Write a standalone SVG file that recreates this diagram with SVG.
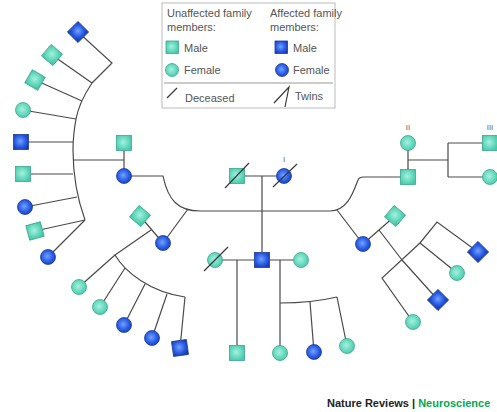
<svg xmlns="http://www.w3.org/2000/svg" width="497" height="412" viewBox="0 0 497 412">
<defs>
<radialGradient id="gT" cx="0.45" cy="0.45" r="0.6">
<stop offset="0" stop-color="#a3f2e0"/><stop offset="1" stop-color="#45c8a8"/>
</radialGradient>
<radialGradient id="gB" cx="0.45" cy="0.45" r="0.6">
<stop offset="0" stop-color="#74a2ff"/><stop offset="0.6" stop-color="#2c5fe6"/><stop offset="1" stop-color="#1a3db5"/>
</radialGradient>
<style>
.t{fill:url(#gT);stroke:#3aa88e;stroke-width:0.8}
.b{fill:url(#gB);stroke:#1c3c9c;stroke-width:0.8}
.ln{fill:none;stroke:#4a4a4a;stroke-width:1.2}
.sl{fill:none;stroke:#3a3a3a;stroke-width:1.2}
.lg{font-family:"Liberation Sans",Arial,sans-serif;font-size:11px;fill:#555}
.num{font-family:"Liberation Sans",Arial,sans-serif;font-size:8px;fill:#666;text-anchor:middle}
</style>
</defs>
<rect width="497" height="412" fill="#fff"/>

<g id="legend">
<rect x="162" y="3" width="173" height="105" fill="#fff" stroke="#bbb" stroke-width="1"/>
<text class="lg" x="167" y="17">Unaffected family</text>
<text class="lg" x="167" y="31">members:</text>
<text class="lg" x="270" y="17">Affected family</text>
<text class="lg" x="270" y="31">members:</text>
<rect class="t" x="166" y="41" width="12.5" height="12.5"/>
<text class="lg" x="184" y="52">Male</text>
<rect class="b" x="275" y="41" width="12.5" height="12.5"/>
<text class="lg" x="293" y="52">Male</text>
<circle class="t" cx="172" cy="70" r="6.5"/>
<text class="lg" x="184" y="74">Female</text>
<circle class="b" cx="282" cy="70" r="6.5"/>
<text class="lg" x="293" y="74">Female</text>
<line x1="164" y1="83" x2="333" y2="83" stroke="#999" stroke-width="1"/>
<line class="sl" x1="167" y1="98" x2="177" y2="88"/>
<text class="lg" x="185" y="102">Deceased</text>
<polyline class="sl" points="274,103 289,87 285,107"/>
<text class="lg" x="295" y="100">Twins</text>
</g>

<g id="connectors">
<path class="ln" d="M78,32 L112,63 L92,83 C84,95 78,108 76,119 C74,130 73,140 73,150 C73,175 76,195 85,220"/>
<path class="ln" d="M52,55 L92,83 M35,80 L82,101 M23,110 L76,119 M21,142 L73,142 M23,174 L73,174 M25,207 L77,197 M35,231 L85,220 M48,257 L85,220"/>
<path class="ln" d="M73,160 L124,160 M124,143 L124,176"/>
<path class="ln" d="M237,176 L284,176 M262,176 L262,260"/>
<path class="ln" d="M126,176 L163,176 C168,200 178,211 200,211 L330,211 C348,211 354,190 358,180 Q359,177 364,177 L408,177"/>
<path class="ln" d="M163,243 L188,209 M363,244 L337,210"/>
<path class="ln" d="M140,216 L163,243 M151,230 L115,255"/>
<path class="ln" d="M79,287 L115,255 C125,272 150,292 185,297 M100,307 L125,268 M124,325 L145,284 M152,338 L167,294 M180,348 L185,297"/>
<path class="ln" d="M215,260 L301,260 M237,260 L237,353 M280,260 L280,353"/>
<path class="ln" d="M280,303 C300,303 320,301 337,297 M310,302 L314,352 M337,297 L347,346"/>
<path class="ln" d="M408,143 L408,177 M408,160 L448,160 M448,143 L448,177 M448,143 L490,143 M448,177 L490,177"/>
<path class="ln" d="M363,244 L395,216 M379,230 L402,260"/>
<path class="ln" d="M413,322 L382,278 L420,243 L437,222 L478,252 M420,243 L457,273 M402,260 L438,300"/>
</g>

<g id="gen1-male"><rect class="t" x="229.5" y="168.5" width="15" height="15"/><line class="sl" x1="225" y1="188" x2="249" y2="163"/></g>
<g id="gen1-female"><circle class="b" cx="284" cy="176" r="7.5"/><line class="sl" x1="273" y1="187" x2="297" y2="164"/><text class="num" x="284" y="162">I</text></g>

<g id="fan-1"><rect class="b" x="70.5" y="24.5" width="15" height="15" transform="rotate(45 78 32)"/></g>
<g id="fan-2"><rect class="t" x="44.5" y="47.5" width="15" height="15" transform="rotate(40 52 55)"/></g>
<g id="fan-3"><rect class="t" x="27.5" y="72.5" width="15" height="15" transform="rotate(30 35 80)"/></g>
<g id="fan-4"><circle class="t" cx="23" cy="110" r="7.5"/></g>
<g id="fan-5"><rect class="b" x="13.5" y="134.5" width="15" height="15"/></g>
<g id="fan-6"><rect class="t" x="15.5" y="166.5" width="15" height="15"/></g>
<g id="fan-7"><circle class="b" cx="25" cy="207" r="7.5"/></g>
<g id="fan-8"><rect class="t" x="27.5" y="223.5" width="15" height="15" transform="rotate(-15 35 231)"/></g>
<g id="fan-9"><circle class="b" cx="48" cy="257" r="7.5"/></g>

<g id="left-spouse"><rect class="t" x="116.5" y="135.5" width="15" height="15"/></g>
<g id="left-daughter"><circle class="b" cx="124" cy="176" r="7.5"/></g>

<g id="ll-spouse"><rect class="t" x="132.5" y="208.5" width="15" height="15" transform="rotate(40 140 216)"/></g>
<g id="ll-daughter"><circle class="b" cx="163" cy="243" r="7.5"/></g>
<g id="ll-c1"><circle class="t" cx="79" cy="287" r="7.5"/></g>
<g id="ll-c2"><circle class="t" cx="100" cy="307" r="7.5"/></g>
<g id="ll-c3"><circle class="b" cx="124" cy="325" r="7.5"/></g>
<g id="ll-c4"><circle class="b" cx="152" cy="338" r="7.5"/></g>
<g id="ll-c5"><rect class="b" x="172.5" y="340.5" width="15" height="15" transform="rotate(-8 180 348)"/></g>

<g id="mid-wife1"><circle class="t" cx="215" cy="260" r="7.5"/><line class="sl" x1="204" y1="271" x2="228" y2="247"/></g>
<g id="mid-son"><rect class="b" x="254.5" y="252.5" width="15" height="15"/></g>
<g id="mid-wife2"><circle class="t" cx="301" cy="260" r="7.5"/></g>
<g id="mid-c1"><rect class="t" x="229.5" y="345.5" width="15" height="15"/></g>
<g id="mid-c2"><circle class="t" cx="280" cy="353" r="7.5"/></g>
<g id="mid-c3"><circle class="b" cx="314" cy="352" r="7.5"/></g>
<g id="mid-c4"><circle class="t" cx="347" cy="346" r="7.5"/></g>

<g id="r-wife"><circle class="t" cx="408" cy="143" r="7.5"/><text class="num" x="408" y="130">II</text></g>
<g id="r-son"><rect class="t" x="400.5" y="169.5" width="15" height="15"/></g>
<g id="r-c1"><rect class="t" x="482.5" y="135.5" width="15" height="15"/><text class="num" x="490" y="130">III</text></g>
<g id="r-c2"><circle class="t" cx="490" cy="177" r="7.5"/></g>

<g id="rl-daughter"><circle class="b" cx="363" cy="244" r="7.5"/></g>
<g id="rl-spouse"><rect class="t" x="387.5" y="208.5" width="15" height="15" transform="rotate(40 395 216)"/></g>
<g id="rl-c1"><rect class="b" x="470.5" y="244.5" width="15" height="15" transform="rotate(45 478 252)"/></g>
<g id="rl-c2"><circle class="t" cx="457" cy="273" r="7.5"/></g>
<g id="rl-c3"><rect class="b" x="430.5" y="292.5" width="15" height="15" transform="rotate(45 438 300)"/></g>
<g id="rl-c4"><circle class="t" cx="413" cy="322" r="7.5"/></g>

<g id="footer">
<text x="327" y="407" font-family="'Liberation Sans',Arial,sans-serif" font-size="11" font-weight="bold" fill="#222">Nature Reviews | <tspan fill="#00a94f">Neuroscience</tspan></text>
</g>
</svg>
